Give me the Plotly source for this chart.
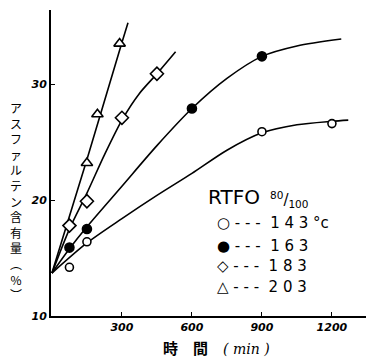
import plotly.graph_objects as go

# ---- data ----
# RTFO 80/100, asphaltene content (%) vs time (min)
t143 = [75, 150, 900, 1200]
v143 = [14.2, 16.4, 25.9, 26.6]
t163 = [75, 150, 600, 900]
v163 = [15.9, 17.5, 27.9, 32.4]
t183 = [75, 150, 300, 450]
v183 = [17.8, 19.9, 27.1, 30.9]
t203 = [150, 195, 290]
v203 = [23.2, 27.4, 33.5]

# fitted curves
c143_t = [0, 150, 300, 450, 600, 750, 900, 1050, 1200, 1270]
c143_v = [13.7, 16.3, 18.4, 20.4, 22.3, 24.3, 25.8, 26.5, 26.8, 26.9]
c163_t = [0, 75, 150, 300, 450, 600, 750, 900, 1050, 1240]
c163_v = [13.7, 15.8, 17.7, 21.2, 24.7, 27.9, 30.5, 32.4, 33.3, 33.9]
c183_t = [0, 75, 150, 225, 300, 375, 450, 530]
c183_v = [13.7, 17.5, 20.6, 23.9, 26.9, 29.2, 30.9, 32.8]
c203_t = [0, 150, 300, 326]
c203_v = [13.7, 23.5, 33.6, 35.3]

x_ticks = [300, 600, 900, 1200]
y_ticks = [10, 20, 30]
legend_title = "RTFO"
legend_marks = ["○", "●", "◇", "△"]
legend_temps = ["1 4 3 °c", "1 6 3", "1 8 3", "2 0 3"]
y_title = "アスファルテン含有量︵%︶"

# ---- figure ----
W, H = 366, 358
L, R, T, B = 51, 0, 10, 42
pw, ph = W - L - R, H - T - B
NB = "\u00a0"

def px(xp):
    return (xp - L) / pw

def py(yp):
    return (H - B - yp) / ph

fig = go.Figure()
line = dict(color="black", width=1.6)
for ct, cv in [(c143_t, c143_v), (c163_t, c163_v), (c183_t, c183_v), (c203_t, c203_v)]:
    fig.add_trace(go.Scatter(x=ct, y=cv, mode="lines", line=dict(shape="spline", smoothing=0.8, **line),
                             hoverinfo="skip", showlegend=False))

mk = dict(line=dict(color="black", width=1.6))
fig.add_trace(go.Scatter(x=t143, y=v143, mode="markers", showlegend=False,
                         marker=dict(symbol="circle", size=8, color="white", **mk)))
fig.add_trace(go.Scatter(x=t163, y=v163, mode="markers", showlegend=False,
                         marker=dict(symbol="circle", size=9, color="black", **mk)))
fig.add_trace(go.Scatter(x=t183, y=v183, mode="markers", showlegend=False,
                         marker=dict(symbol="diamond", size=10, color="white", **mk)))
fig.add_trace(go.Scatter(x=t203, y=v203, mode="markers", showlegend=False,
                         marker=dict(symbol="triangle-up", size=10, color="white", **mk)))

ann = []
# legend text
ann.append(dict(x=px(206), y=py(197), xref="paper", yref="paper", xanchor="left", yanchor="middle",
                text=legend_title, showarrow=False, font=dict(size=20, family="DejaVu Sans", color="black")))
ann.append(dict(x=px(268), y=py(199), xref="paper", yref="paper", xanchor="left", yanchor="middle",
                text="<sup>80</sup>/<sub>100</sub>", showarrow=False,
                font=dict(size=15, family="DejaVu Sans", color="black")))
row_y = [223, 246, 266, 287]
for m, tmp, yy in zip(legend_marks, legend_temps, row_y):
    txt = m + NB + "-" + NB + "-" + NB + "-" + NB + NB + tmp.replace(" ", NB)
    ann.append(dict(x=px(215), y=py(yy), xref="paper", yref="paper", xanchor="left", yanchor="middle",
                    text=txt, showarrow=False, font=dict(size=15, family="DejaVu Sans", color="black")))

# y-axis title, upright vertical characters
ann.append(dict(x=px(16), y=py(201), xref="paper", yref="paper", xanchor="center", yanchor="middle",
                text="<br>".join(list(y_title)), showarrow=False,
                font=dict(size=12, family="Noto Sans CJK JP", color="black")))

# x-axis title
ann.append(dict(x=px(170), y=py(347), xref="paper", yref="paper", xanchor="center", yanchor="middle",
                text="<b>時</b>", showarrow=False, font=dict(size=15, family="Noto Sans CJK JP", color="black")))
ann.append(dict(x=px(200), y=py(347), xref="paper", yref="paper", xanchor="center", yanchor="middle",
                text="<b>間</b>", showarrow=False, font=dict(size=15, family="Noto Sans CJK JP", color="black")))
ann.append(dict(x=px(246), y=py(349), xref="paper", yref="paper", xanchor="center", yanchor="middle",
                text="<i>( min )</i>", showarrow=False, font=dict(size=14, family="DejaVu Serif", color="black")))

fig.update_layout(
    width=W, height=H,
    margin=dict(l=L, r=R, t=T, b=B, pad=0),
    paper_bgcolor="white", plot_bgcolor="white",
    annotations=ann,
    showlegend=False,
)
fig.update_xaxes(range=[-4, 1346], tickvals=x_ticks, ticktext=[f"<i><b>{v}</b></i>" for v in x_ticks],
                 showgrid=False, zeroline=False, showline=True, linecolor="black", linewidth=2,
                 ticks="inside", ticklen=4, tickcolor="black", tickwidth=1.2,
                 tickfont=dict(size=11, family="DejaVu Sans", color="black"))
fig.update_yaxes(range=[10, 36.4], tickvals=y_ticks, ticktext=[f"<i><b>{v}</b></i>" for v in y_ticks],
                 showgrid=False, zeroline=False, showline=True, linecolor="black", linewidth=2,
                 ticks="inside", ticklen=4, tickcolor="black", tickwidth=1.2,
                 tickfont=dict(size=11, family="DejaVu Sans", color="black"))

fig.write_html("out.html", config={"displayModeBar": False},
               post_script="document.body.style.margin='0';document.body.style.padding='0';")
